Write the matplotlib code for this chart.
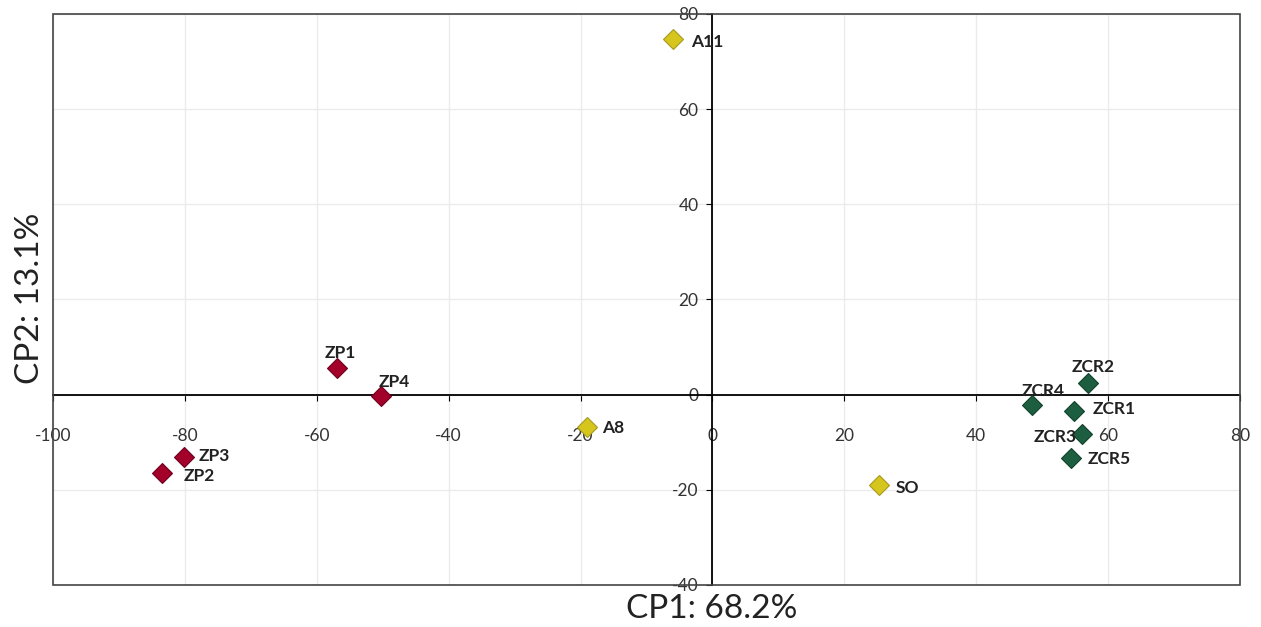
import matplotlib
matplotlib.use("Agg")
import matplotlib.pyplot as plt
from matplotlib.patches import Rectangle

# PCA scores (CP1, CP2) per sample
labels = ["ZP1", "ZP2", "ZP3", "ZP4", "A8", "A11", "SO",
          "ZCR1", "ZCR2", "ZCR3", "ZCR4", "ZCR5"]
cp1 = [-56.9, -83.4, -80.2, -50.2, -19.0, -5.9, 25.2,
       54.9, 56.9, 56.1, 48.5, 54.4]
cp2 = [5.6, -16.5, -13.1, -0.3, -6.8, 74.8, -19.0,
       -3.4, 2.5, -8.3, -2.2, -13.3]
groups = ["ZP", "ZP", "ZP", "ZP", "A", "A", "A",
          "ZCR", "ZCR", "ZCR", "ZCR", "ZCR"]

x_ticks = [-100, -80, -60, -40, -20, 0, 20, 40, 60, 80]
y_ticks = [-40, -20, 0, 20, 40, 60, 80]

colors = {"ZP": "#a3002a", "A": "#d6c51c", "ZCR": "#1e5e40"}
edges = {"ZP": "#6e0020", "A": "#a89a20", "ZCR": "#10422b"}

# label offsets in points (dx, dy, ha)
offsets = {
    "ZP1": (2, 11, "center"), "ZP2": (15, -2, "left"), "ZP3": (11, 1, "left"),
    "ZP4": (-2, 10, "left"), "A8": (11, -1, "left"), "A11": (13, -2, "left"),
    "SO": (12, -2, "left"), "ZCR1": (13, 1, "left"), "ZCR2": (4, 11, "center"),
    "ZCR3": (-4, -2, "right"), "ZCR4": (8, 10, "center"), "ZCR5": (12, -1, "left"),
}

plt.rcParams['font.family'] = ['Lato', 'DejaVu Sans']
plt.rcParams['axes.unicode_minus'] = False

fig = plt.figure(figsize=(12.61, 6.27), dpi=100)
ax = fig.add_axes([0.042, 0.067, 0.9413, 0.9107])

ax.set_xlim(-100, 80)
ax.set_ylim(-40, 80)
ax.set_xticks(x_ticks)
ax.set_yticks(y_ticks)
ax.grid(True, color="#ebebeb", linewidth=1)
ax.set_axisbelow(True)

# axes crossing at the origin
for side in ["top", "right"]:
    ax.spines[side].set_visible(False)
ax.spines["bottom"].set_position(("data", 0))
ax.spines["left"].set_position(("data", 0))
ax.spines["bottom"].set_color("black")
ax.spines["left"].set_color("black")
ax.spines["bottom"].set_linewidth(1.3)
ax.spines["left"].set_linewidth(1.3)
ax.tick_params(axis="x", direction="out", length=4, pad=20, labelsize=12.5, colors="#333333")
ax.tick_params(axis="y", direction="out", length=4, pad=6, labelsize=12.5, colors="#333333")
ax.tick_params(axis="both", color="black")

# outer frame
ax.add_patch(Rectangle((0, 0), 1, 1, transform=ax.transAxes, fill=False,
                       edgecolor="#444444", linewidth=1.2, clip_on=False, zorder=5))

for lab, x, y, g in zip(labels, cp1, cp2, groups):
    ax.plot(x, y, marker="D", markersize=10, color=colors[g],
            markeredgecolor=edges[g], markeredgewidth=0.8, linestyle="none", zorder=4)
    dx, dy, ha = offsets[lab]
    ax.annotate(lab, (x, y), xytext=(dx, dy), textcoords="offset points",
                ha=ha, va="center", fontsize=12.5, fontweight="bold",
                color="#222222", zorder=6)

fig.text(0.5647, 0.029, "CP1: 68.2%", ha="center", va="center", fontsize=24, color="#222222")
fig.text(0.024, 0.525, "CP2: 13.1%", ha="center", va="center", rotation=90,
         fontsize=24, color="#222222")

fig.savefig("out.png", dpi=100, facecolor="white")
